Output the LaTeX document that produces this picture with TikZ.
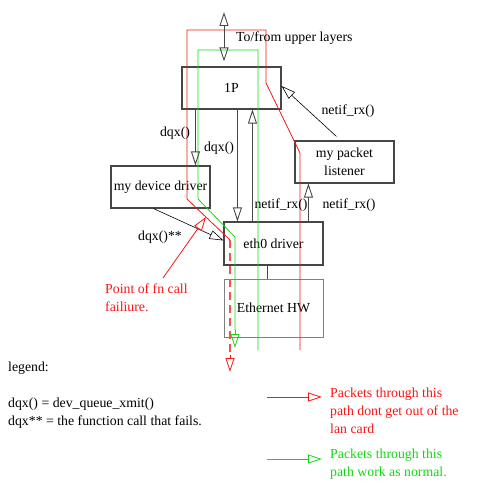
\documentclass[tikz,border=0pt]{standalone}
\usepackage{fontspec}
\setmainfont{Liberation Serif}
\usetikzlibrary{arrows.meta,positioning}

\definecolor{pathred}{RGB}{250,20,20}
\definecolor{pathgreen}{RGB}{20,215,20}
\definecolor{boxgray}{RGB}{70,70,70}

\begin{document}
\begin{tikzpicture}[
  x=1pt,y=-1pt,
  font=\fontsize{13.8}{18}\selectfont,
  box/.style={draw=boxgray,line width=1.1pt,minimum width=99pt,minimum height=42pt,
              inner sep=1pt,align=center},
  hwbox/.style={draw=gray,line width=0.7pt,minimum width=99pt,minimum height=58pt,
                inner sep=1pt,align=center},
  lbl/.style={inner sep=0pt},
  opentip/.style={-{Triangle[open,length=14pt,width=9pt]}},
  arrow/.style={opentip,draw=boxgray,line width=0.9pt},
  thinarrow/.style={opentip,draw=black,line width=0.6pt},
  redpath/.style={pathred,line width=0.8pt},
  greenpath/.style={pathgreen,line width=0.8pt}
]
\useasboundingbox (0,0) rectangle (480,500);

% boxes
\node[box] (ip) at (231.5,88) {1P};
\node[box] (dev) at (160.5,187) {my device driver};
\node[box] (lst) at (344.5,162) {my packet\\listener};
\node[box,minimum height=43pt] (eth) at (273.5,243.5) {eth0 driver};
\node[hwbox] (hw) at (273.5,308) {Ethernet HW};

% red path (fails)
\draw[redpath] (300,350) -- (300,153) -- (266,83) -- (266,30) -- (187,30)
  -- (187,199) -- (230,240);
\draw[pathred!75,line width=1.6pt,dash pattern=on 8pt off 5pt] (230,240) -- (230,352);
\coordinate (redend) at (230,372);
\draw[pathred,opentip,line width=0.8pt] (230,355) -- (redend);

% green path (normal)
\draw[greenpath] (258,350) -- (258,50) -- (198,50) -- (198,199) -- (235,237) -- (235,330);
\coordinate (greenend) at (235,348);
\draw[greenpath,opentip] (235,330) -- (greenend);

% connectors
\coordinate (upper) at (224,12);
\draw[arrow,{Triangle[open,length=14pt,width=9pt]}-{Triangle[open,length=14pt,width=9pt]}]
  (upper) -- ([xshift=-7.5pt,yshift=5pt]ip.north);
\draw[arrow] ([xshift=14pt]ip.south west) -- ([xshift=85pt]dev.north west);
\draw[arrow] ([xshift=56pt]ip.south west) -- ([xshift=14pt]eth.north west);
\draw[arrow] ([xshift=29pt]eth.north west) -- ([xshift=71pt]ip.south west);
\draw[arrow] ([xshift=85pt]eth.north west) -- ([xshift=14pt]lst.south west);
\draw[thinarrow] ([xshift=42pt,yshift=4pt]lst.north west) -- ([yshift=2pt]ip.east);
\draw[thinarrow] ([xshift=-7pt]dev.south) -- ([yshift=3pt]eth.west);
\draw[boxgray,line width=0.9pt] ([xshift=-6.5pt]eth.south) -- ([xshift=-6.5pt]hw.north);

% labels
\node[lbl,anchor=west] (uplbl) at (236,38) {To/from upper layers};
\node[lbl] (dqxa) at (175,133) {dqx()};
\node[lbl] (dqxb) at (219,148) {dqx()};
\node[lbl] (rxa) at (348,111) {netif\_rx()};
\node[lbl] (rxb) at (281,205) {netif\_rx()};
\node[lbl] (rxc) at (349,205) {netif\_rx()};
\node[lbl] (dqxf) at (160,237) {dqx()**};

% point of failure
\node[lbl,anchor=west,align=left,text=pathred] (fail) at (105,298) {Point of fn call\\failiure.};
\coordinate (failpt) at (206,217);
\draw[redpath,opentip] (163,278) -- (failpt);

% legend
\node[lbl,anchor=west] (legend) at (8,368) {legend:};
\node[lbl,anchor=west,align=left] (legtext) at (8,413)
  {dqx() = dev\_queue\_xmit()\\dqx** = the function call that fails.};
\node[lbl,anchor=north west,align=left,text=pathred] (legred) at (330,388)
  {Packets through this\\path dont get out of the\\lan card};
\node[lbl,anchor=north west,align=left,text=pathgreen] (leggreen) at (330,449)
  {Packets through this\\path work as normal.};
\coordinate (lr) at (267,397);
\coordinate (lg) at (267,459);
\draw[redpath,opentip] (lr) -- ([xshift=-8pt]lr -| legred.west);
\draw[greenpath,opentip] (lg) -- ([xshift=-8pt]lg -| leggreen.west);
\end{tikzpicture}
\end{document}
